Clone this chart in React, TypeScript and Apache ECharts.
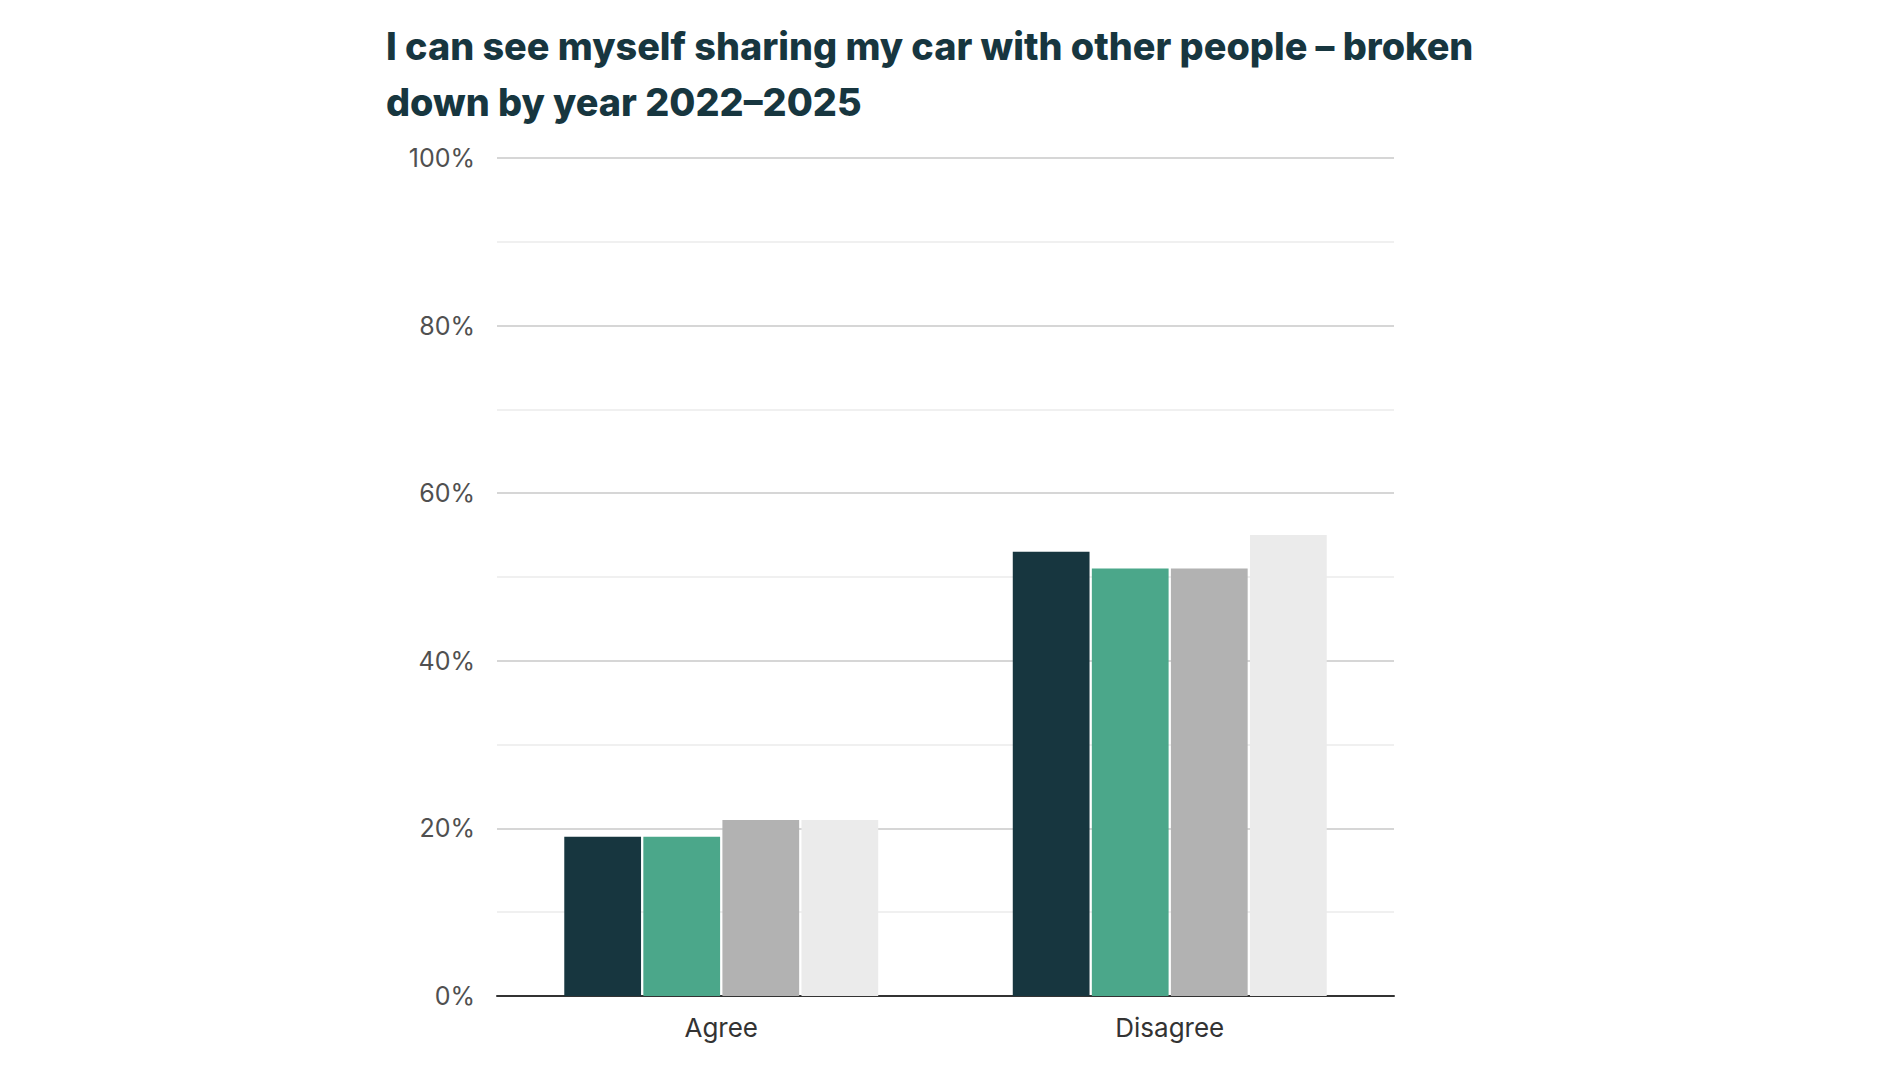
import React, { useRef, useEffect } from "react";
import * as echarts from "echarts";

const categories = ["Agree", "Disagree"];
const years = ["2022", "2023", "2024", "2025"];
const values2022 = [19, 53];
const values2023 = [19, 51];
const values2024 = [21, 51];
const values2025 = [21, 55];
const colors = ["#17363F", "#4BA78A", "#B2B2B2", "#EBEBEB"];

export default function App() {
  const chartRef = useRef<HTMLDivElement>(null);

  useEffect(() => {
    document.body.style.margin = "0";
    if (!chartRef.current) return;
    const chart = echarts.init(chartRef.current, null, { renderer: "svg" });

    const seriesValues = [values2022, values2023, values2024, values2025];

    chart.setOption({
      animation: false,
      color: colors,
      title: {
        text: "I can see myself sharing my car with other people – broken\ndown by year 2022–2025",
        left: 386,
        top: 18,
        padding: 0,
        textStyle: {
          fontFamily: "Inter",
          fontSize: 37.8,
          fontWeight: 800,
          color: "#17363F",
          lineHeight: 56,
        },
      },
      grid: {
        left: 497,
        right: 506,
        top: 158,
        bottom: 73,
        containLabel: false,
      },
      xAxis: {
        type: "category",
        data: categories,
        axisTick: { show: false },
        axisLine: { lineStyle: { color: "#333", width: 2 } },
        axisLabel: {
          fontFamily: "Inter",
          fontSize: 26,
          color: "#333",
          margin: 18,
        },
      },
      yAxis: {
        type: "value",
        min: 0,
        max: 100,
        interval: 20,
        axisLine: { show: false },
        axisTick: { show: false },
        axisLabel: {
          formatter: "{value}%",
          fontFamily: "Inter",
          fontSize: 25,
          color: "#505050",
          margin: 22,
        },
        splitLine: { lineStyle: { color: "#c8c8c8", width: 1.5 } },
        minorTick: { show: false, splitNumber: 2 },
        minorSplitLine: { show: true, lineStyle: { color: "#ebebeb", width: 1.5 } },
      },
      series: years.map((year, i) => ({
        name: year,
        type: "bar",
        data: seriesValues[i],
        barGap: "3%",
        barCategoryGap: "30%",
      })),
    });

    return () => {
      chart.dispose();
    };
  }, []);

  return <div ref={chartRef} style={{ width: "100vw", height: "100vh" }} />;
}
